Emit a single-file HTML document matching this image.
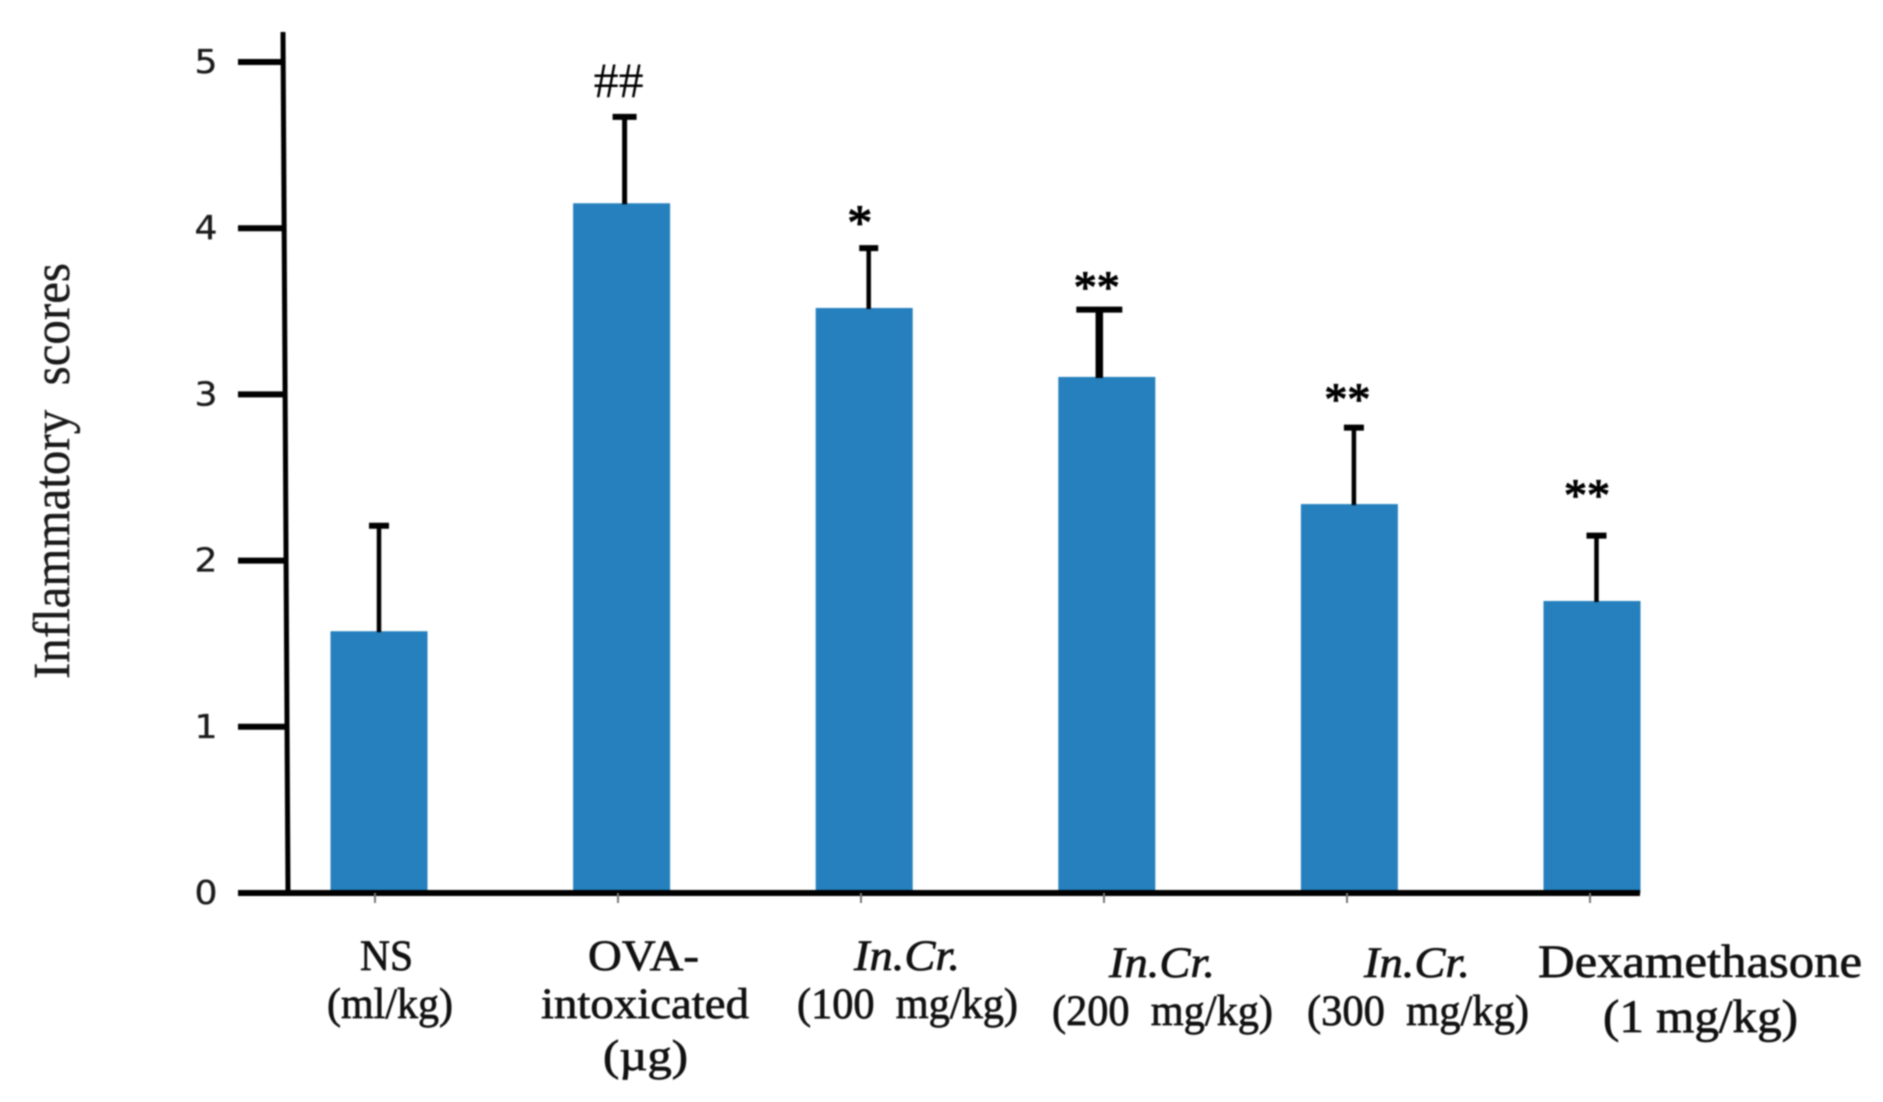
<!DOCTYPE html>
<html lang="en">
<head>
<meta charset="utf-8">
<title>Inflammatory scores bar chart</title>
<style>
  html, body { margin: 0; padding: 0; background: #fff; width: 1883px; height: 1102px; overflow: hidden; }
  #chart { display: block; filter: blur(0.7px); }
  .xl { font-family: "Liberation Serif", serif; font-size: 43px; fill: #111; stroke: #111; stroke-width: 0.7px; }
  .it { font-style: italic; }
  .yt { font-family: "DejaVu Sans", sans-serif; font-size: 33px; fill: #1a1a1a; text-anchor: middle; stroke: #1a1a1a; stroke-width: 0.3px; }
  .ann { font-family: "Liberation Serif", serif; fill: #000; text-anchor: middle; }
</style>
</head>
<body>
<svg id="chart" width="1883" height="1102" viewBox="0 0 1883 1102" xmlns="http://www.w3.org/2000/svg">
  <rect x="0" y="0" width="1883" height="1102" fill="#fff"/>
  <g id="bars"></g>
  <g id="errors"></g>
  <g id="axes"></g>
  <g id="annotations"></g>

  <text x="69" y="679" transform="rotate(-90 69 679)" textLength="416" lengthAdjust="spacingAndGlyphs" xml:space="preserve" style="font-family:'Liberation Serif',serif;font-size:52px;fill:#1a1a1a;stroke:#1a1a1a;stroke-width:0.4px;white-space:pre">Inflammatory  scores</text>

  <g>
    <text class="xl" x="360" y="970" textLength="53" lengthAdjust="spacingAndGlyphs">NS</text>
    <text class="xl" x="327" y="1018" textLength="126" lengthAdjust="spacingAndGlyphs">(ml/kg)</text>
    <text class="xl" x="588" y="970" textLength="111" lengthAdjust="spacingAndGlyphs">OVA-</text>
    <text class="xl" x="541" y="1018" textLength="208" lengthAdjust="spacingAndGlyphs">intoxicated</text>
    <text class="xl" x="603" y="1070" textLength="85" lengthAdjust="spacingAndGlyphs">(µg)</text>
    <text class="xl it" x="854" y="970" textLength="106" lengthAdjust="spacingAndGlyphs">In.Cr.</text>
    <text class="xl" x="797" y="1018" textLength="221" lengthAdjust="spacingAndGlyphs" xml:space="preserve" style="white-space:pre">(100  mg/kg)</text>
    <text class="xl it" x="1109" y="977" textLength="106" lengthAdjust="spacingAndGlyphs">In.Cr.</text>
    <text class="xl" x="1052" y="1025" textLength="221" lengthAdjust="spacingAndGlyphs" xml:space="preserve" style="white-space:pre">(200  mg/kg)</text>
    <text class="xl it" x="1364" y="977" textLength="106" lengthAdjust="spacingAndGlyphs">In.Cr.</text>
    <text class="xl" x="1307" y="1025" textLength="222" lengthAdjust="spacingAndGlyphs" xml:space="preserve" style="white-space:pre">(300  mg/kg)</text>
    <text class="xl" x="1538" y="977" textLength="324" lengthAdjust="spacingAndGlyphs" style="font-size:47px">Dexamethasone</text>
    <text class="xl" x="1603" y="1032" textLength="195" lengthAdjust="spacingAndGlyphs" style="font-size:47px">(1 mg/kg)</text>
  </g>
</svg>

<script>
const categories = ["NS", "OVA-intoxicated", "In.Cr. 100 mg/kg", "In.Cr. 200 mg/kg", "In.Cr. 300 mg/kg", "Dexamethasone"];
const meanValues = [1.575, 4.15, 3.52, 3.105, 2.34, 1.757];
const errorTops = [2.21, 4.67, 3.88, 3.51, 2.80, 2.15];
const significance = ["", "##", "*", "**", "**", "**"];
const yTickValues = [0, 1, 2, 3, 4, 5];
const yTickLabels = ["0", "1", "2", "3", "4", "5"];

const SVG_NS = "http://www.w3.org/2000/svg";
const BLUE = "#2580bd";
const INK = "#000";

function yScale(v) { return 893 - v * 166.2; }
function barCenter(i) { return 379 + 242.6 * i; }
function tickCenter(i) { return 375 + 243 * i; }
const BAR_WIDTH = 97;

function make(tag, attrs) {
  const el = document.createElementNS(SVG_NS, tag);
  for (const k in attrs) el.setAttribute(k, attrs[k]);
  return el;
}

function drawBars() {
  const g = document.getElementById("bars");
  categories.forEach(function (c, i) {
    const top = yScale(meanValues[i]);
    const el = make("rect", { x: barCenter(i) - BAR_WIDTH / 2, y: top, width: BAR_WIDTH, height: yScale(0) - top, fill: BLUE });
    
    
    g.appendChild(el);
  });
}

function drawErrors() {
  const g = document.getElementById("errors");
  // hand-drawn look of the figure: each whisker has its own nudge, stem weight and cap width
  const look = [
    { dx: 0, stem: 4.5, cap: 20 },
    { dx: 3, stem: 5, cap: 24 },
    { dx: 4.5, stem: 4.5, cap: 19 },
    { dx: -7.5, stem: 7.5, cap: 46 },
    { dx: 4.5, stem: 4.5, cap: 20 },
    { dx: 4.5, stem: 4.5, cap: 20 }
  ];
  categories.forEach(function (c, i) {
    const x = barCenter(i) + look[i].dx;
    const top = yScale(errorTops[i]);
    const stem = make("line", { x1: x, x2: x, y1: yScale(meanValues[i]) + 1, y2: top, stroke: INK, "stroke-width": look[i].stem });
    
    
    g.appendChild(stem);
    const cap = make("line", { x1: x - look[i].cap / 2, x2: x + look[i].cap / 2, y1: top, y2: top, stroke: INK, "stroke-width": 6 });
    
    
    g.appendChild(cap);
  });
}

function drawAxes() {
  const g = document.getElementById("axes");
  const yAxis = make("line", { x1: 283, y1: 32, x2: 288, y2: yScale(0), stroke: INK, "stroke-width": 5 });
  
  
  g.appendChild(yAxis);

  const xAxis = make("line", { x1: 238, y1: yScale(0), x2: 1640, y2: yScale(0), stroke: INK, "stroke-width": 6 });
  
  
  g.appendChild(xAxis);

  yTickValues.forEach(function (v, i) {
    const y = yScale(v);
    if (v > 0) {
      const t = make("line", { x1: 238, y1: y, x2: 285, y2: y, stroke: INK, "stroke-width": 6 });
      
      
      g.appendChild(t);
    }
    const label = make("text", { x: 206, y: y + 11, "class": "yt", textLength: 23, lengthAdjust: "spacingAndGlyphs" });
    
    
    label.textContent = yTickLabels[i];
    g.appendChild(label);
  });

  categories.forEach(function (c, i) {
    const t = make("line", { x1: tickCenter(i), x2: tickCenter(i), y1: yScale(0), y2: yScale(0) + 10, stroke: "#777", "stroke-width": 2 });
    
    
    g.appendChild(t);
  });
}

function drawAnnotations() {
  const g = document.getElementById("annotations");
  // gap above the whisker, nudge from bar centre, glyph size and weight for each marker
  const look = [
    null,
    { gap: 20, dx: -3, size: 50, weight: 0 },
    { gap: 9, dx: -4.5, size: 50, weight: 1.2 },
    { gap: 7, dx: -10, size: 46, weight: 1.2 },
    { gap: 13, dx: -2, size: 46, weight: 1.2 },
    { gap: 25, dx: -5, size: 46, weight: 1.2 }
  ];
  significance.forEach(function (s, i) {
    if (!s) return;
    const el = make("text", {
      x: barCenter(i) + look[i].dx,
      y: yScale(errorTops[i]) - look[i].gap,
      "class": "ann",
      "font-size": look[i].size,
      stroke: "#000",
      "stroke-width": look[i].weight
    });
    
    
    el.textContent = s;
    g.appendChild(el);
  });
}

drawBars();
drawErrors();
drawAxes();
drawAnnotations();
</script>
</body>
</html>
